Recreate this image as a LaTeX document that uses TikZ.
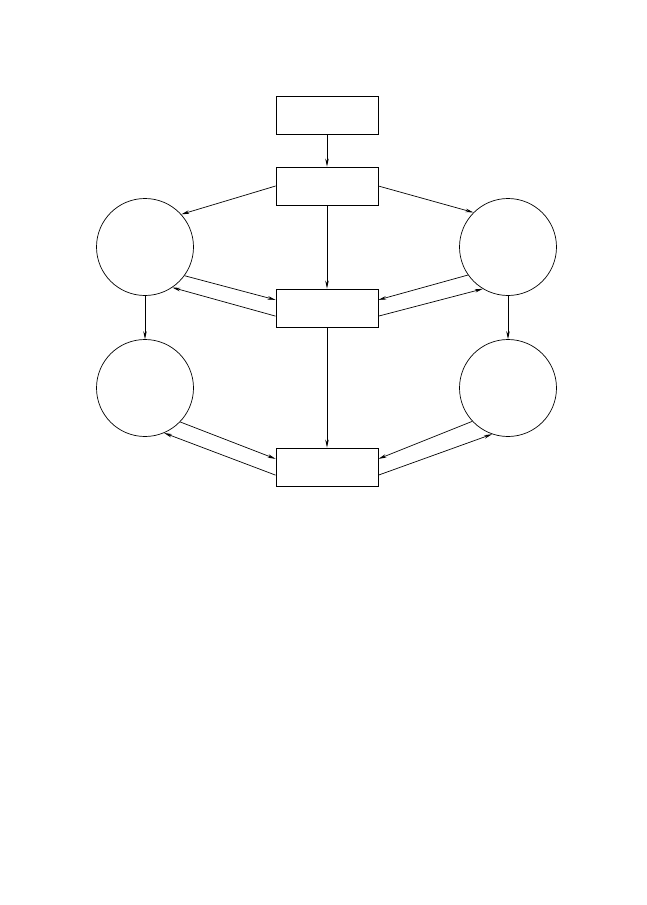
\documentclass[tikz,border=0pt]{standalone}
\usetikzlibrary{arrows.meta}

\begin{document}
\begin{tikzpicture}[x=1pt,y=-1pt,
  blk/.style={draw, line width=0.8pt, minimum width=102pt, minimum height=38pt, inner sep=0pt},
  place/.style={draw, circle, line width=0.7pt, minimum size=97pt, inner sep=0pt},
  flow/.style={line width=0.7pt, -{Stealth[length=8pt,width=3.5pt]}}]
\useasboundingbox (0,0) rectangle (647,905);
% boxes down the middle
\node[blk] (top) at (327,115) {};
\node[blk] (split) at (327,186) {};
\node[blk] (mid) at (327,308) {};
\node[blk] (low) at (327,467) {};
% circles on both sides
\node[place] (ul) at (145,247) {};
\node[place] (ur) at (508,247) {};
\node[place] (ll) at (145,388) {};
\node[place] (lr) at (508,388) {};
% centre column
\draw[flow] (top) -- (split);
\draw[flow] (split) -- (mid);
\draw[flow] (mid) -- (low);
\draw[flow] (ul) -- (ll);
\draw[flow] (ur) -- (lr);
% out to the circles
\draw[flow] (split.west) -- (ul.42);
\draw[flow] (split.east) -- (ur.135);
% upper pair
\draw[flow] (ul.-36) -- (mid.171);
\draw[flow] (mid.189) -- (ul.-56);
\draw[flow] (ur.215) -- (mid.9);
\draw[flow] (mid.-9) -- (ur.239);
% lower pair
\draw[flow] (ll.-44) -- (low.171);
\draw[flow] (low.189) -- (ll.-67);
\draw[flow] (lr.223) -- (low.9);
\draw[flow] (low.-9) -- (lr.251);
\end{tikzpicture}
\end{document}
